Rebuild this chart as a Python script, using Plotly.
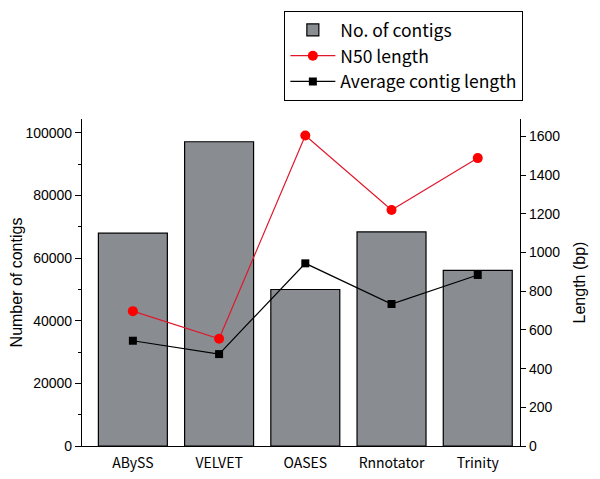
import plotly.graph_objects as go

categories = ["ABySS", "VELVET", "OASES", "Rnnotator", "Trinity"]
contigs = [68000, 97200, 50000, 68400, 56100]
n50_length = [697, 554, 1605, 1220, 1488]
avg_length = [544, 475, 944, 734, 884]

left_ticks = [0, 20000, 40000, 60000, 80000, 100000]
left_minor = [10000, 30000, 50000, 70000, 90000]
right_ticks = [0, 200, 400, 600, 800, 1000, 1200, 1400, 1600]

jp = "Noto Sans CJK JP, sans-serif"
num = "Liberation Sans, Arial, sans-serif"

fig = go.Figure()
fig.add_trace(go.Bar(
    x=categories, y=contigs, name="No. of contigs",
    marker=dict(color="#898d92", line=dict(color="black", width=1.2)),
    width=0.8, yaxis="y", legendgroup="a",
))
fig.add_trace(go.Scatter(
    x=categories, y=n50_length, name="N50 length", mode="lines+markers",
    line=dict(color="#e0182c", width=1.2),
    marker=dict(color="#ff0000", size=10, symbol="circle"),
    yaxis="y2", legendgroup="b",
))
fig.add_trace(go.Scatter(
    x=categories, y=avg_length, name="Average contig length", mode="lines+markers",
    line=dict(color="black", width=1.2),
    marker=dict(color="black", size=8, symbol="square"),
    yaxis="y2", legendgroup="c",
))

fig.update_layout(
    width=600, height=479,
    margin=dict(l=74, r=88, t=111, b=41, autoexpand=False),
    paper_bgcolor="white", plot_bgcolor="white",
    showlegend=True,
    legend=dict(
        x=0.462, y=1.33, xanchor="left", yanchor="top",
        bordercolor="black", borderwidth=1, bgcolor="white",
        font=dict(family=jp, size=17.5, color="black"),
        traceorder="normal", tracegroupgap=2, itemwidth=45,
    ),
    xaxis=dict(
        range=[-0.59, 4.49], showline=True, linecolor="black", linewidth=1.2,
        ticks="", tickfont=dict(family=jp, size=14, color="black"), ticklabelstandoff=4,
        showgrid=False, zeroline=False, automargin=False,
    ),
    yaxis=dict(
        range=[0, 104470], tickvals=left_ticks, tickformat="d",
        showline=True, linecolor="black", linewidth=1.2,
        ticks="outside", ticklen=6, tickcolor="black",
        minor=dict(tickvals=left_minor, ticks="outside", ticklen=3, tickcolor="black"),
        tickfont=dict(family=num, size=14, color="black"),
        showgrid=False, zeroline=False, automargin=False,
        title=dict(text="Number of contigs", font=dict(family=num, size=16, color="black"), standoff=6),
    ),
    yaxis2=dict(
        range=[0, 1690], tickvals=right_ticks, tickformat="d", overlaying="y", side="right",
        showline=True, linecolor="black", linewidth=1.2,
        ticks="outside", ticklen=5, tickcolor="black",
        tickfont=dict(family=num, size=14, color="black"),
        showgrid=False, zeroline=False, automargin=False,
        title=dict(text="Length (bp)", font=dict(family=num, size=16, color="black"), standoff=14),
    ),
)

fig.write_html("out.html")
